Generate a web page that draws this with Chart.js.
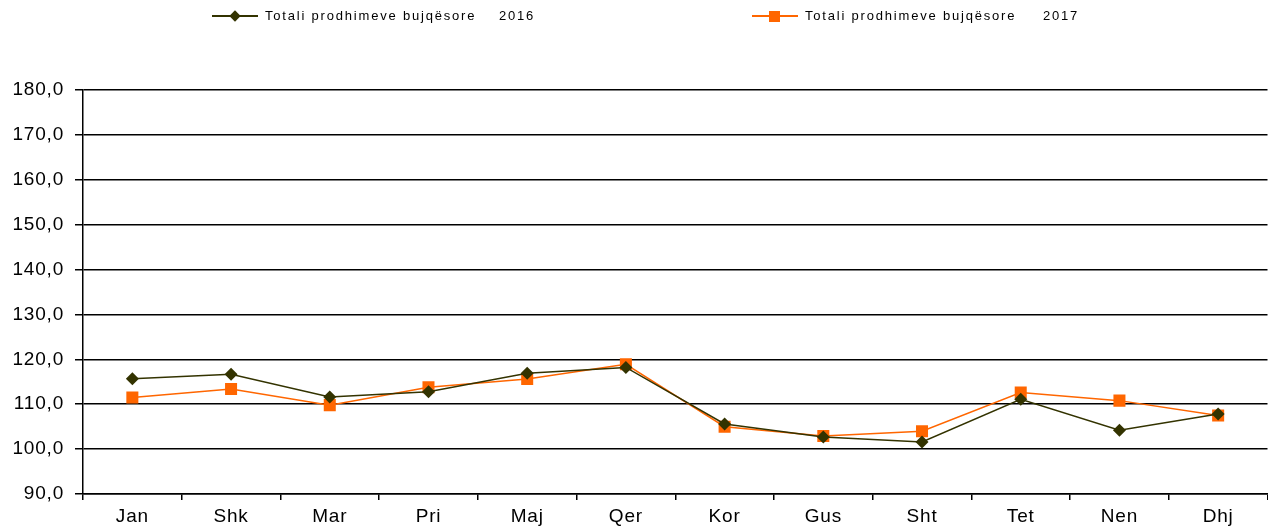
<!DOCTYPE html>
<html>
<head>
<meta charset="utf-8">
<script src="https://cdn.jsdelivr.net/npm/chart.js@4"></script>
<style>
  html, body { margin: 0; padding: 0; background: #fff; overflow: hidden; }
  #wrap { position: relative; width: 1268px; height: 528px; overflow: hidden; }
  #box { position: absolute; left: 0; top: 0; width: 1276px; height: 528px; }
  .leg { position: absolute; top: 8px; height: 16px; font-family: "Liberation Sans", Arial, sans-serif;
         font-size: 13px; letter-spacing: 1.8px; color: #000; white-space: pre; line-height: 16px; }
  .leg .ln { position: absolute; top: 7px; width: 46px; height: 2px; }
  .leg .mk { position: absolute; }
  .leg .tx { position: absolute; top: 0; }
</style>
</head>
<body>
<div id="wrap">
  <div id="box"><canvas id="chart"></canvas></div>
  <div class="leg" style="left:212px">
    <div class="ln" style="left:0;background:#333300"></div>
    <div class="mk" style="left:19px;top:4px;width:8px;height:8px;background:#333300;transform:rotate(45deg)"></div>
    <span class="tx" style="left:53px">Totali prodhimeve bujqësore</span>
    <span class="tx" style="left:287px">2016</span>
  </div>
  <div class="leg" style="left:752px">
    <div class="ln" style="left:0;background:#FF6600"></div>
    <div class="mk" style="left:17px;top:3px;width:11px;height:11px;background:#FF6600"></div>
    <span class="tx" style="left:53px">Totali prodhimeve bujqësore</span>
    <span class="tx" style="left:291px">2017</span>
  </div>
</div>
<script>
// months
const months = ["Jan", "Shk", "Mar", "Pri", "Maj", "Qer", "Kor", "Gus", "Sht", "Tet", "Nen", "Dhj"];
// Totali prodhimeve bujqësore 2016
const values2016 = [115.7, 116.7, 111.6, 112.8, 116.9, 118.2, 105.6, 102.7, 101.6, 111.1, 104.2, 107.8];
// Totali prodhimeve bujqësore 2017
const values2017 = [111.5, 113.4, 109.8, 113.8, 115.6, 118.9, 105.0, 102.9, 104.0, 112.6, 110.8, 107.5];
const yMin = 90, yMax = 180, yStep = 10;

const font = { family: "'Liberation Sans', Arial, sans-serif", size: 19 };

// the original text is spaced a bit wider than the plain font
const spacing = {
  id: "spacing",
  beforeDraw(chart) { chart.ctx.letterSpacing = "0.8px"; }
};

new Chart(document.getElementById("chart"), {
  type: "line",
  data: {
    labels: months,
    datasets: [
      {
        label: "Totali prodhimeve bujqësore    2016",
        data: values2016,
        borderColor: "#333300",
        backgroundColor: "#333300",
        borderWidth: 1.5,
        pointStyle: "rectRot",
        pointRadius: 6.5,
        pointHoverRadius: 6.5,
        pointBorderWidth: 0
      },
      {
        label: "Totali prodhimeve bujqësore    2017",
        data: values2017,
        borderColor: "#FF6600",
        backgroundColor: "#FF6600",
        borderWidth: 1.5,
        pointStyle: "rect",
        pointRadius: 8.5,
        pointHoverRadius: 8.5,
        pointBorderWidth: 0
      }
    ]
  },
  plugins: [spacing],
  options: {
    responsive: true,
    maintainAspectRatio: false,
    animation: false,
    events: [],
    layout: { padding: { top: 90, right: 1, left: 0, bottom: 0 } },
    plugins: {
      legend: { display: false },
      tooltip: { enabled: false }
    },
    scales: {
      x: {
        offset: true,
        grid: { display: true, drawOnChartArea: false, drawTicks: true, tickLength: 6, color: "#000", lineWidth: 1.5, offset: true },
        border: { display: true, color: "#000", width: 1.5 },
        ticks: { color: "#000", font: font, padding: 5, maxRotation: 0 },
        afterFit: s => { s.height = 34; }
      },
      y: {
        min: yMin,
        max: yMax,
        grid: { color: "#000", lineWidth: 1.5, tickLength: 8 },
        border: { display: true, color: "#000", width: 1.5 },
        ticks: {
          stepSize: yStep,
          color: "#000",
          font: font,
          padding: 11,
          callback: v => v.toFixed(1).replace(".", ",")
        },
        afterFit: s => { s.width = 83; }
      }
    }
  }
});
</script>
</body>
</html>
